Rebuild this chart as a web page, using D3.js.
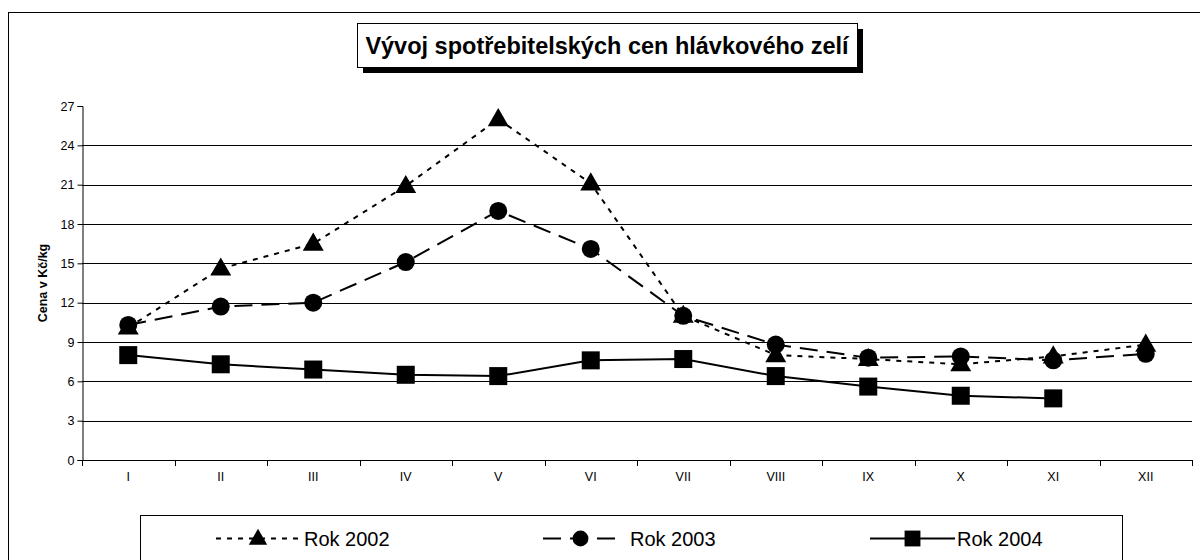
<!DOCTYPE html>
<html><head><meta charset="utf-8">
<script src="https://cdn.jsdelivr.net/npm/d3@7"></script>
<style>body{margin:0;background:#fff}svg{display:block;font-family:"Liberation Sans",Arial,sans-serif}</style>
</head><body>
<svg id="c" width="1200" height="560"></svg>
<script>
const months = ["I","II","III","IV","V","VI","VII","VIII","IX","X","XI","XII"];
const rok2002 = [10.1,14.6,16.5,20.9,26.0,21.1,11.0,8.0,7.7,7.3,7.9,8.8];
const rok2003 = [10.3,11.7,12.0,15.1,19.0,16.1,11.0,8.8,7.8,7.9,7.6,8.1];
const rok2004 = [8.0,7.3,6.9,6.5,6.4,7.6,7.7,6.4,5.6,4.9,4.7,null];
const yTicks = [0,3,6,9,12,15,18,21,24,27];
const seriesNames = ["Rok 2002","Rok 2003","Rok 2004"];

const svg = d3.select("#c");
// outer border
svg.append("rect").attr("x",8.5).attr("y",12.5).attr("width",1200).attr("height",600)
  .attr("fill","none").attr("stroke","#000").attr("stroke-width",1);

const x = d3.scaleBand().domain(months).range([82,1192]).padding(0);
const y = d3.scaleLinear().domain([0,27]).range([460,106]);

// gridlines
svg.append("g").selectAll("line").data(yTicks.filter(d=>d>0&&d<27)).join("line")
  .attr("x1",82).attr("x2",1192).attr("y1",d=>Math.round(y(d))+0.5).attr("y2",d=>Math.round(y(d))+0.5)
  .attr("stroke","#000").attr("stroke-width",1);

const yAxis = svg.append("g").attr("transform","translate(82.5,0)")
  .call(d3.axisLeft(y).tickValues(yTicks).tickSize(5).tickPadding(3));
const xAxis = svg.append("g").attr("transform","translate(0,460.5)")
  .call(d3.axisBottom(x).tickSize(0).tickPadding(12));
// category boundary ticks
svg.append("g").selectAll("line").data(d3.range(13)).join("line")
  .attr("x1",i=>Math.round(82+i*x.bandwidth())+0.5).attr("x2",i=>Math.round(82+i*x.bandwidth())+0.5)
  .attr("y1",460).attr("y2",466).attr("stroke","#000");
[yAxis,xAxis].forEach(a=>{a.selectAll("path").attr("stroke","#000");a.selectAll("line").attr("stroke","#000");
  a.selectAll("text").attr("font-family","Liberation Sans, Arial").attr("font-size",12.5).attr("fill","#000");});
xAxis.select("path").attr("d","M82,0H1192");

svg.append("text").attr("transform","translate(47,283) rotate(-90)").attr("text-anchor","middle")
  .attr("font-size",12.5).attr("font-weight","bold").text("Cena v Kč/kg");

// title
svg.append("rect").attr("x",363).attr("y",29).attr("width",500).attr("height",44).attr("fill","#000");
svg.append("rect").attr("x",357.5).attr("y",23.5).attr("width",500).attr("height",44).attr("fill","#fff").attr("stroke","#000");
svg.append("text").attr("x",607).attr("y",54).attr("text-anchor","middle").attr("font-size",23.5).attr("font-weight","bold")
  .text("Vývoj spotřebitelských cen hlávkového zelí");

const styles = [
  {data:rok2002,dash:"5,6",marker:"tri"},
  {data:rok2003,dash:"18,9",marker:"circ"},
  {data:rok2004,dash:null,marker:"sq"}
];
const line = d3.line().defined(d=>d.v!=null).x(d=>x(d.m)+x.bandwidth()/2).y(d=>y(d.v));
function marker(g,type,cx,cy,k){
  k = k||1;
  if(type==="tri") g.append("path").attr("d",d3.symbol(d3.symbolTriangle,190*k*k)()).attr("transform",`translate(${cx},${cy+1})`).attr("fill","#000");
  else if(type==="circ") g.append("circle").attr("cx",cx).attr("cy",cy).attr("r",9*k).attr("fill","#000");
  else g.append("rect").attr("x",cx-9*k).attr("y",cy-9*k).attr("width",18*k).attr("height",18*k).attr("fill","#000");
}
styles.forEach(s=>{
  const pts = months.map((m,i)=>({m,v:s.data[i]}));
  svg.append("path").attr("d",line(pts)).attr("fill","none").attr("stroke","#000").attr("stroke-width",2)
    .attr("stroke-dasharray",s.dash);
  const g = svg.append("g");
  pts.filter(p=>p.v!=null).forEach(p=>marker(g,s.marker,x(p.m)+x.bandwidth()/2,y(p.v)));
});

// legend
svg.append("rect").attr("x",140.5).attr("y",515.5).attr("width",982).attr("height",60).attr("fill","#fff").attr("stroke","#000");
const legPos = [[216,300,304],[543,618,630],[870,955,957]];
styles.forEach((s,i)=>{
  const [l0,l1,tx] = legPos[i], ly = 538.5;
  svg.append("line").attr("x1",l0).attr("x2",l1).attr("y1",ly).attr("y2",ly).attr("stroke","#000").attr("stroke-width",2)
    .attr("stroke-dasharray",s.dash);
  marker(svg,s.marker,(l0+l1)/2,ly,0.88);
  svg.append("text").attr("x",tx).attr("y",ly+7).attr("font-size",20).text(seriesNames[i]);
});
</script>
</body></html>
